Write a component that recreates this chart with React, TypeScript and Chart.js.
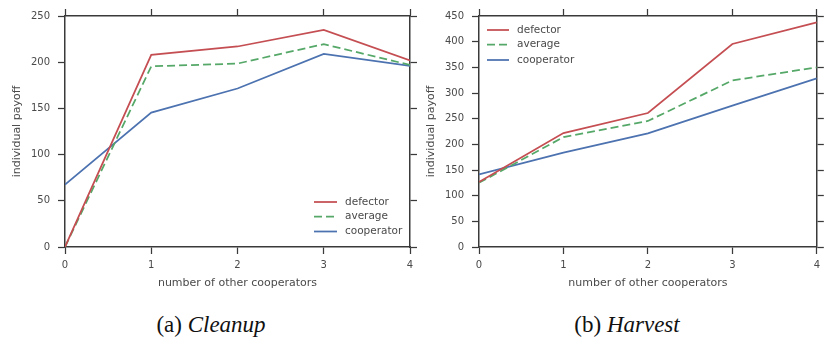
import React, { useEffect, useRef } from 'react';
import { Chart, registerables } from 'chart.js';
Chart.register(...registerables);

const xValues = [0, 1, 2, 3, 4];
const xTickLabels = ['0', '1', '2', '3', '4'];
const seriesNames = ['defector', 'average', 'cooperator'];

const cleanupDefector = [0, 208, 217, 235, 202];
const cleanupAverage = [0, 195.5, 198.5, 219.5, 197];
const cleanupCooperator = [67.5, 145.5, 171.5, 209, 196];
const cleanupYTicks = [0, 50, 100, 150, 200, 250];

const harvestDefector = [126.5, 222, 261, 395.5, 437.5];
const harvestAverage = [125, 214, 245.5, 324.5, 350];
const harvestCooperator = [141.5, 184, 221.5, 275.5, 328.5];
const harvestYTicks = [0, 50, 100, 150, 200, 250, 300, 350, 400, 450];

const xTitle = 'number of other cooperators';
const yTitle = 'individual payoff';

const COLORS = ['#c44e52', '#55a868', '#4c72b0'];
const DASHES = [[], [8, 4], []];
const AXIS = '#3a3a3a';
const TEXT = '#4a4a4a';
const FONT = 'DejaVu Sans';

function makeLegendPlugin(lineX0: number, lineX1: number, textX: number, rowYs: number[]) {
  return {
    id: 'customLegend',
    afterDatasetsDraw(chart: any) {
      const ctx = chart.ctx;
      ctx.save();
      chart.data.datasets.forEach((ds: any, i: number) => {
        const y = rowYs[i];
        ctx.beginPath();
        ctx.strokeStyle = ds.borderColor;
        ctx.lineWidth = ds.borderWidth;
        ctx.setLineDash(ds.borderDash || []);
        ctx.moveTo(lineX0, y);
        ctx.lineTo(lineX1, y);
        ctx.stroke();
        ctx.setLineDash([]);
        ctx.fillStyle = TEXT;
        ctx.font = `10.5px "${FONT}"`;
        ctx.textAlign = 'left';
        ctx.textBaseline = 'middle';
        ctx.fillText(ds.label, textX, y);
      });
      ctx.restore();
    },
  };
}

function makeConfig(series: number[][], yTicks: number[], rightWidth: number, legend: any) {
  const yMax = yTicks[yTicks.length - 1];
  const grid = {
    display: true,
    drawOnChartArea: false,
    drawTicks: true,
    tickLength: 7,
    tickWidth: 1.25,
    tickColor: AXIS,
  };
  const border = { display: true, color: AXIS, width: 1.5 };
  const tickFont = { family: FONT, size: 10 };
  const setYTicks = (s: any) => {
    s.ticks = yTicks.map((v) => ({ value: v }));
  };
  const setXTicks = (s: any) => {
    s.ticks = xValues.map((v) => ({ value: v }));
  };
  return {
    type: 'line',
    data: {
      datasets: series.map((vals, i) => ({
        label: seriesNames[i],
        data: xValues.map((x, j) => ({ x, y: vals[j] })),
        borderColor: COLORS[i],
        backgroundColor: COLORS[i],
        borderWidth: 1.75,
        borderDash: DASHES[i],
        pointRadius: 0,
        tension: 0,
        fill: false,
      })),
    },
    options: {
      responsive: false,
      maintainAspectRatio: false,
      animation: false,
      events: [],
      layout: { padding: 0 },
      plugins: { legend: { display: false }, tooltip: { enabled: false } },
      scales: {
        x: {
          type: 'linear',
          position: 'bottom',
          min: 0,
          max: 4,
          afterBuildTicks: setXTicks,
          ticks: {
            color: TEXT,
            font: tickFont,
            padding: 5,
            maxRotation: 0,
            callback: (v: number) => xTickLabels[xValues.indexOf(v)],
          },
          grid,
          border,
          title: {
            display: true,
            text: xTitle,
            color: TEXT,
            font: { family: FONT, size: 11 },
            padding: { top: 0, bottom: 10 },
          },
          afterFit: (s: any) => {
            s.height = 53;
          },
        },
        x2: {
          type: 'linear',
          position: 'top',
          min: 0,
          max: 4,
          afterBuildTicks: setXTicks,
          ticks: { display: false },
          grid,
          border,
          afterFit: (s: any) => {
            s.height = 16;
          },
        },
        y: {
          type: 'linear',
          position: 'left',
          min: 0,
          max: yMax,
          afterBuildTicks: setYTicks,
          ticks: { color: TEXT, font: tickFont, padding: 8 },
          grid,
          border,
          title: {
            display: true,
            text: yTitle,
            color: TEXT,
            font: { family: FONT, size: 11 },
            padding: { top: 11, bottom: 0 },
          },
          afterFit: (s: any) => {
            s.width = 65;
          },
        },
        y2: {
          type: 'linear',
          position: 'right',
          min: 0,
          max: yMax,
          afterBuildTicks: setYTicks,
          ticks: { display: false },
          grid,
          border,
          afterFit: (s: any) => {
            s.width = rightWidth;
          },
        },
      },
    },
    plugins: [legend],
  } as any;
}

function PayoffChart(props: { config: any; width: number; height: number; left: number }) {
  const ref = useRef<HTMLCanvasElement>(null);
  useEffect(() => {
    if (!ref.current) return;
    const chart = new Chart(ref.current, props.config);
    return () => chart.destroy();
  }, []);
  return (
    <canvas
      ref={ref}
      width={props.width}
      height={props.height}
      style={{ position: 'absolute', left: props.left, top: 0, width: props.width, height: props.height }}
    />
  );
}

const captionStyle: React.CSSProperties = {
  position: 'absolute',
  top: 313,
  fontFamily: '"Liberation Serif", serif',
  fontSize: 23,
  lineHeight: '24px',
  color: '#111',
  whiteSpace: 'nowrap',
  transform: 'translateX(-50%)',
};

export default function App() {
  const leftConfig = makeConfig(
    [cleanupDefector, cleanupAverage, cleanupCooperator],
    cleanupYTicks,
    10,
    makeLegendPlugin(314, 337, 345, [202, 216.5, 231.5])
  );
  const rightConfig = makeConfig(
    [harvestDefector, harvestAverage, harvestCooperator],
    harvestYTicks,
    2,
    makeLegendPlugin(73, 95, 103, [30, 44.5, 60])
  );
  return (
    <div style={{ position: 'absolute', left: 0, top: 0, width: 825, height: 338, background: '#fff', overflow: 'hidden' }}>
      <PayoffChart config={leftConfig} width={420} height={300} left={0} />
      <PayoffChart config={rightConfig} width={411} height={300} left={414} />
      <div style={{ ...captionStyle, left: 211 }}>
        (a) <i>Cleanup</i>
      </div>
      <div style={{ ...captionStyle, left: 627 }}>
        (b) <i>Harvest</i>
      </div>
    </div>
  );
}
